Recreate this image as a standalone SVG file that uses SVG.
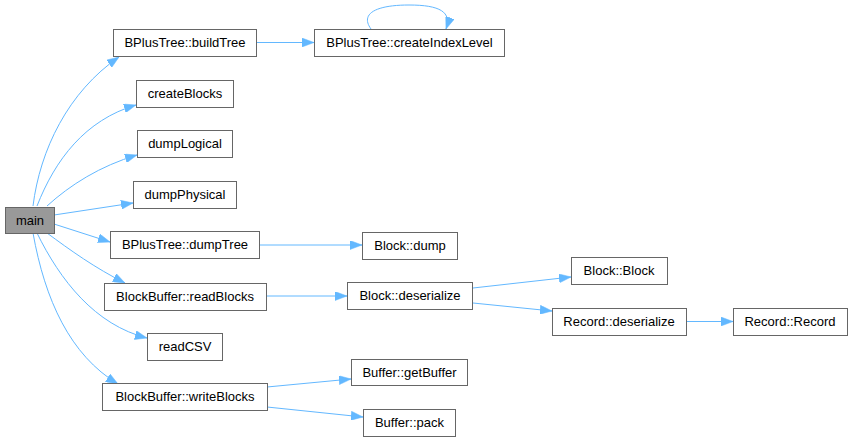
<svg xmlns="http://www.w3.org/2000/svg" width="852" height="441" viewBox="0 0 852 441">
<defs>
<style>
.n rect{fill:#ffffff;stroke:#666666;stroke-width:1}
#main rect{fill:#999999}
.n text{font-family:"Liberation Sans",Arial,sans-serif;font-size:13px;fill:#000000;text-anchor:middle}
.e path{fill:none;stroke:#63b8ff;stroke-width:1}
</style>
<marker id="ah" viewBox="0 0 12 9" refX="12" refY="4.5" markerWidth="12" markerHeight="9" markerUnits="userSpaceOnUse" orient="auto">
<path d="M0,0 L12,4.5 L0,9 Z" fill="#63b8ff" stroke="#63b8ff" stroke-width="0.5"/>
</marker>
</defs>
<rect width="852" height="441" fill="#ffffff"/>
<g class="e">
<path d="M33,206 C40,150 68,92 119,57" marker-end="url(#ah)"/>
<path d="M37,206 C55,160 85,120 136,105" marker-end="url(#ah)"/>
<path d="M47,206 C70,185 100,166 137,155" marker-end="url(#ah)"/>
<path d="M54,215 L133,203" marker-end="url(#ah)"/>
<path d="M54,224 L110,242" marker-end="url(#ah)"/>
<path d="M47,233 C70,250 95,268 125,283" marker-end="url(#ah)"/>
<path d="M37,233 C60,280 95,325 147,338" marker-end="url(#ah)"/>
<path d="M33,233 C45,300 70,355 118,384" marker-end="url(#ah)"/>
<path d="M256,42.5 L314,42.5" marker-end="url(#ah)"/>
<path d="M371,29 C360,14 375,5 409,5 C440,5 452,12 446,29" marker-end="url(#ah)"/>
<path d="M259,245 L362,245" marker-end="url(#ah)"/>
<path d="M266,296 L347,296" marker-end="url(#ah)"/>
<path d="M473,288 L571,277" marker-end="url(#ah)"/>
<path d="M473,303 L552,311" marker-end="url(#ah)"/>
<path d="M686,321.5 L733,321.5" marker-end="url(#ah)"/>
<path d="M267,387 L351,379" marker-end="url(#ah)"/>
<path d="M267,407 L363,417" marker-end="url(#ah)"/>
</g>
<g id="main" class="n"><rect x="5.5" y="207.5" width="49" height="26"/><text x="30" y="225">main</text></g>
<g id="buildTree" class="n"><rect x="113.5" y="29.5" width="143" height="27"/><text x="185" y="47">BPlusTree::buildTree</text></g>
<g id="createIndexLevel" class="n"><rect x="314.5" y="29.5" width="190" height="27"/><text x="409.5" y="47">BPlusTree::createIndexLevel</text></g>
<g id="createBlocks" class="n"><rect x="136.5" y="80.5" width="97" height="27"/><text x="185" y="98">createBlocks</text></g>
<g id="dumpLogical" class="n"><rect x="137.5" y="130.5" width="95" height="27"/><text x="185" y="148">dumpLogical</text></g>
<g id="dumpPhysical" class="n"><rect x="133.5" y="181.5" width="103" height="27"/><text x="185" y="199">dumpPhysical</text></g>
<g id="dumpTree" class="n"><rect x="110.5" y="231.5" width="149" height="27"/><text x="185" y="249">BPlusTree::dumpTree</text></g>
<g id="readBlocks" class="n"><rect x="104.5" y="283.5" width="162" height="27"/><text x="185" y="301">BlockBuffer::readBlocks</text></g>
<g id="readCSV" class="n"><rect x="147.5" y="333.5" width="75" height="27"/><text x="185" y="351">readCSV</text></g>
<g id="writeBlocks" class="n"><rect x="102.5" y="383.5" width="165" height="27"/><text x="185" y="401">BlockBuffer::writeBlocks</text></g>
<g id="blockDump" class="n"><rect x="362.5" y="232.5" width="95" height="27"/><text x="410" y="250">Block::dump</text></g>
<g id="blockDeserialize" class="n"><rect x="347.5" y="282.5" width="125" height="27"/><text x="410" y="300">Block::deserialize</text></g>
<g id="getBuffer" class="n"><rect x="351.5" y="359.5" width="116" height="26"/><text x="409.5" y="377">Buffer::getBuffer</text></g>
<g id="pack" class="n"><rect x="363.5" y="409.5" width="92" height="27"/><text x="409.5" y="427">Buffer::pack</text></g>
<g id="blockBlock" class="n"><rect x="571.5" y="257.5" width="96" height="27"/><text x="619" y="275">Block::Block</text></g>
<g id="recordDeserialize" class="n"><rect x="552.5" y="308.5" width="134" height="27"/><text x="619" y="326">Record::deserialize</text></g>
<g id="recordRecord" class="n"><rect x="733.5" y="308.5" width="114" height="27"/><text x="790" y="326">Record::Record</text></g>
</svg>
